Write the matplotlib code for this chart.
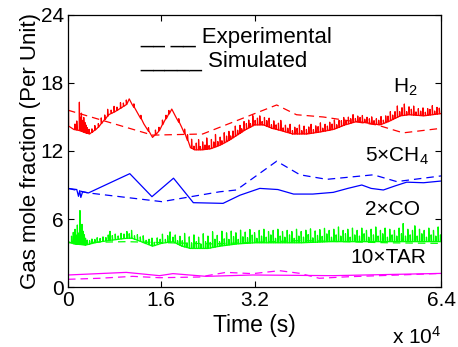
import numpy as np
import matplotlib.pyplot as plt

plt.rcParams['font.family'] = ['Liberation Sans', 'DejaVu Sans']
plt.rcParams['mathtext.default'] = 'regular'

# time in units of 1e4 s, values in per unit (scaled)
# simulated curves: slow baseline (t, value) plus spikes (t, height above baseline)
h2_base = [(0, 25), (0.01, 14.2), (0.10, 13.9), (0.20, 13.8), (0.30, 13.6), (0.37, 13.5), (0.50, 14.0),
           (0.60, 14.6), (0.70, 15.2), (0.85, 15.6), (1.00, 16.1), (1.05, 16.6), (1.10, 16.1), (1.20, 15.3),
           (1.30, 14.4), (1.45, 13.2), (1.55, 13.7), (1.65, 14.6), (1.78, 15.7), (1.85, 15.0), (1.95, 14.1),
           (2.03, 13.2), (2.10, 12.3), (2.17, 12.1), (2.30, 12.1), (2.45, 12.2), (2.60, 12.5), (2.75, 12.9),
           (2.90, 13.4), (3.05, 13.9), (3.20, 14.3), (3.35, 14.3), (3.50, 14.0), (3.65, 13.8), (3.85, 13.5),
           (4.10, 13.5), (4.35, 13.7), (4.55, 13.9), (4.75, 14.3), (4.95, 14.6), (5.10, 14.5), (5.35, 14.3),
           (5.50, 14.6), (5.70, 15.1), (5.85, 15.2), (6.10, 15.1), (6.40, 15.3)]
h2_spikes = [(0.12, 0.5), (0.15, 0.8), (0.195, 2.5), (0.21, 1.2), (0.23, 1.6), (0.25, 1.0), (0.27, 1.3),
             (0.29, 0.9), (0.31, 0.7), (0.33, 0.5), (0.36, 0.4), (0.41, 0.3), (0.46, 0.4), (0.52, 0.3),
             (0.57, 0.5), (0.63, 0.4), (0.68, 0.6), (0.74, 0.3), (0.79, 0.5), (0.84, 0.3), (0.90, 0.5),
             (0.95, 0.3), (1.00, 0.4), (1.13, 0.3), (1.25, 0.3), (1.38, 0.3), (1.50, 0.4), (1.56, 0.3),
             (1.62, 0.4), (1.68, 0.3), (1.73, 0.3), (1.90, 0.3), (2.00, 0.4), (2.05, 0.5),
             (2.12, 0.8), (2.16, 0.3), (2.20, 0.6), (2.24, 0.9), (2.27, 0.3), (2.31, 0.7), (2.35, 0.4),
             (2.38, 1.0), (2.42, 0.3), (2.46, 0.8), (2.50, 0.5), (2.53, 1.1), (2.57, 0.4), (2.61, 0.7),
             (2.64, 0.3), (2.68, 0.9), (2.72, 0.5), (2.76, 0.8), (2.79, 0.3), (2.83, 0.6), (2.87, 0.9),
             (2.91, 0.4), (2.95, 0.7), (2.98, 0.3), (3.02, 0.8), (3.06, 0.5), (3.10, 0.7), (3.13, 0.3),
             (3.17, 0.9), (3.21, 0.4), (3.25, 0.6), (3.29, 0.8), (3.33, 0.3), (3.37, 0.7), (3.41, 0.5),
             (3.45, 0.8), (3.49, 0.3), (3.53, 0.7), (3.57, 0.4), (3.61, 0.6), (3.65, 0.9), (3.69, 0.3),
             (3.73, 0.6), (3.77, 0.4), (3.81, 0.8), (3.85, 0.3), (3.89, 0.6), (3.93, 0.5), (3.97, 0.8),
             (4.01, 0.3), (4.05, 0.7), (4.09, 0.4), (4.13, 0.6), (4.17, 0.8), (4.21, 0.3), (4.25, 0.6),
             (4.29, 0.5), (4.33, 0.8), (4.37, 0.3), (4.41, 0.6), (4.45, 0.4), (4.49, 0.7), (4.53, 0.5),
             (4.57, 0.8), (4.61, 0.3), (4.65, 0.6), (4.69, 0.5), (4.73, 0.7), (4.77, 0.3), (4.81, 0.6),
             (4.85, 0.4), (4.89, 0.7), (4.93, 0.3), (4.97, 0.5), (5.01, 0.4), (5.05, 0.6), (5.09, 0.3),
             (5.13, 0.5), (5.17, 0.4), (5.21, 0.6), (5.25, 0.3), (5.29, 0.5), (5.33, 0.4), (5.37, 0.7),
             (5.41, 0.3), (5.45, 0.6), (5.49, 0.5), (5.53, 0.8), (5.57, 0.4), (5.61, 0.6), (5.65, 1.0),
             (5.69, 0.4), (5.73, 0.7), (5.77, 1.0), (5.81, 0.3), (5.85, 0.7), (5.89, 0.5), (5.93, 0.8),
             (5.97, 0.3), (6.01, 0.6), (6.05, 0.4), (6.09, 0.7), (6.13, 0.3), (6.17, 0.6), (6.21, 0.5),
             (6.25, 0.8), (6.29, 0.3), (6.33, 0.6), (6.37, 0.5)]
h2_exp = [(0, 15.6), (1.45, 13.4), (2.31, 13.5), (3.58, 16.06), (3.92, 15.2), (4.38, 15.0),
          (5.30, 14.3), (5.75, 13.6), (6.40, 14.0)]

ch4_base = [(0, 8.7), (0.15, 8.6), (0.18, 8.0), (0.20, 8.5), (0.22, 7.9), (0.25, 8.4), (0.35, 8.3),
            (0.60, 8.9), (0.85, 9.5), (1.06, 10.0), (1.44, 7.97), (1.81, 9.6), (2.15, 7.44), (2.66, 7.38),
            (2.95, 8.1), (3.29, 8.7), (3.60, 8.6), (3.87, 8.2), (4.20, 8.2), (4.55, 8.35), (4.80, 8.7),
            (5.04, 9.0), (5.20, 8.7), (5.41, 8.56), (5.60, 8.9), (5.81, 9.25), (6.10, 9.2), (6.40, 9.35)]
ch4_spikes = []
ch4_exp = [(0, 8.7), (0.35, 8.3), (1.61, 7.53), (2.60, 8.4), (2.89, 8.56), (3.58, 11.1), (3.98, 9.9),
           (4.44, 9.5), (5.24, 9.9), (5.64, 9.3), (6.40, 9.8)]

co_base = [(0, 21.3), (0.005, 4.0), (0.10, 3.8), (0.30, 3.7), (0.50, 3.95), (0.70, 4.1), (1.00, 4.3),
           (1.10, 4.3), (1.30, 3.9), (1.45, 3.6), (1.60, 3.85), (1.80, 4.0), (1.95, 3.6), (2.10, 3.4),
           (2.40, 3.4), (2.60, 3.6), (2.90, 3.8), (3.20, 3.9), (4.00, 3.9), (4.50, 4.0), (6.40, 4.0)]
co_spikes = [(0.06, 0.6), (0.09, 1.0), (0.12, 1.3), (0.14, 0.8), (0.16, 1.7), (0.18, 1.0), (0.205, 3.0),
             (0.22, 1.4), (0.24, 1.8), (0.26, 1.2), (0.28, 0.9), (0.30, 0.6), (0.33, 0.4), (0.37, 0.3),
             (0.41, 0.4), (0.46, 0.3), (0.50, 0.4), (0.55, 0.3), (0.60, 0.4), (0.65, 0.3), (0.69, 0.5),
             (0.72, 0.8), (0.76, 0.4), (0.81, 0.5), (0.86, 0.3), (0.91, 0.5), (0.96, 0.4), (1.01, 0.6),
             (1.05, 0.4), (1.09, 0.7), (1.14, 0.3), (1.19, 0.5), (1.24, 0.4), (1.29, 0.6), (1.34, 0.3),
             (1.39, 0.5), (1.44, 0.7), (1.48, 0.3), (1.53, 0.6), (1.58, 0.4), (1.62, 0.8), (1.67, 0.3),
             (1.71, 0.6), (1.75, 0.9), (1.80, 0.4), (1.84, 0.7), (1.88, 0.3), (1.92, 0.8), (1.96, 0.5),
             (2.00, 1.2), (2.04, 0.4), (2.08, 1.0), (2.12, 0.5), (2.16, 1.2), (2.20, 0.6), (2.24, 1.0),
             (2.28, 0.4), (2.32, 1.3), (2.36, 0.6), (2.40, 1.1), (2.44, 0.5), (2.48, 1.4), (2.52, 0.7),
             (2.56, 1.0), (2.60, 0.4), (2.64, 1.3), (2.68, 0.6), (2.72, 1.1), (2.76, 0.5), (2.80, 1.2),
             (2.84, 0.7), (2.88, 1.0), (2.92, 0.4), (2.96, 1.2), (3.00, 0.6), (3.04, 1.0), (3.08, 0.5),
             (3.12, 1.2), (3.16, 0.7), (3.20, 0.9), (3.24, 0.4), (3.28, 1.1), (3.32, 0.6), (3.36, 1.2),
             (3.40, 0.5), (3.44, 1.0), (3.48, 0.7), (3.52, 1.1), (3.56, 0.4), (3.60, 1.2), (3.64, 0.6),
             (3.68, 1.0), (3.72, 0.5), (3.76, 1.1), (3.80, 0.7), (3.84, 1.0), (3.88, 0.4), (3.92, 1.2),
             (3.96, 0.6), (4.00, 1.0), (4.04, 0.5), (4.08, 1.1), (4.12, 0.7), (4.16, 1.2), (4.20, 0.4),
             (4.24, 1.0), (4.28, 0.6), (4.32, 1.1), (4.36, 0.5), (4.40, 1.2), (4.44, 0.7), (4.48, 1.0),
             (4.52, 0.4), (4.56, 1.1), (4.60, 0.6), (4.64, 1.3), (4.68, 0.5), (4.72, 1.0), (4.76, 0.7),
             (4.80, 1.1), (4.84, 0.4), (4.88, 1.2), (4.92, 0.6), (4.96, 1.0), (5.00, 0.5), (5.04, 1.2),
             (5.08, 0.7), (5.12, 1.0), (5.16, 0.4), (5.20, 1.1), (5.24, 0.6), (5.28, 1.3), (5.32, 0.5),
             (5.36, 1.0), (5.40, 0.7), (5.44, 1.2), (5.48, 0.4), (5.52, 1.1), (5.56, 0.6), (5.60, 1.0),
             (5.64, 0.5), (5.68, 1.2), (5.72, 0.7), (5.75, 1.6), (5.79, 0.5), (5.83, 1.1), (5.87, 0.6),
             (5.91, 1.0), (5.95, 1.4), (5.99, 0.5), (6.03, 1.1), (6.07, 0.7), (6.11, 1.0), (6.15, 0.4),
             (6.19, 1.2), (6.23, 0.6), (6.27, 1.0), (6.31, 0.5), (6.35, 1.3), (6.39, 0.6)]
co_exp = [(0, 3.9), (1.0, 4.0), (2.5, 3.8), (4.0, 4.1), (5.5, 3.9), (6.4, 3.85)]

tar_base = [(0, 1.06), (1.0, 1.29), (1.57, 1.0), (1.80, 1.18), (2.37, 0.94), (3.17, 1.06),
            (4.54, 1.0), (6.40, 1.2)]
tar_spikes = []
tar_exp = [(0, 0.68), (0.54, 0.77), (1.11, 0.94), (1.57, 0.82), (2.25, 0.88), (2.71, 1.29),
           (3.17, 1.18), (3.63, 1.44), (3.97, 1.21), (4.31, 0.77), (4.83, 0.91), (5.68, 1.06),
           (6.40, 1.2)]

series = [(h2_base, h2_spikes, h2_exp, 'red'), (ch4_base, ch4_spikes, ch4_exp, 'blue'),
          (co_base, co_spikes, co_exp, 'lime'), (tar_base, tar_spikes, tar_exp, 'magenta')]


def spiky(base, spikes):
    # put each spike into the baseline path: sharp rise, quick fall
    t, v = zip(*base)
    pts = list(base)
    for st, h in spikes:
        b = np.interp(st, t[1:], v[1:])
        pts += [(st - 0.002, b), (st, b + h), (st + 0.008, b)]
    pts.sort()
    return zip(*pts)


fig = plt.figure(figsize=(4.58, 3.47), dpi=100)
ax = fig.add_axes([0.1485, 0.1729, 0.8145, 0.7839])

for base, spikes, exp, col in series:
    t, v = spiky(base, spikes)
    ax.plot(t, v, color=col, lw=0.9)
    t, v = zip(*exp)
    ax.plot(t, v, color=col, lw=0.9, ls=(0, (6, 4)))

ax.set_xlim(0, 6.4)
ax.set_ylim(0, 24)
ax.set_xticks([0, 1.6, 3.2, 6.4])
ax.set_xticklabels(['0', '1.6', '3.2', '6.4'])
ax.set_yticks([0, 6, 12, 18, 24])
ax.tick_params(direction='in', top=True, right=True, length=4, labelsize=15, pad=3)
for s in ax.spines.values():
    s.set_linewidth(0.9)

ax.set_xlabel('Time (s)', fontsize=16.5, labelpad=3)
ax.set_ylabel('Gas mole fraction (Per Unit)', fontsize=16, labelpad=0)

ax.text(1.24, 22.0, '__ __ Experimental', fontsize=16, va='center')
ax.text(1.24, 19.9, '_____ Simulated', fontsize=16, va='center')
ax.text(5.58, 17.6, 'H$_2$', fontsize=15, va='center')
ax.text(5.10, 11.5, '5\u00d7CH$_4$', fontsize=15, va='center')
ax.text(5.10, 6.8, '2\u00d7CO', fontsize=15, va='center')
ax.text(4.84, 2.6, '10\u00d7TAR', fontsize=15, va='center')
fig.text(0.963, 0.009, 'x 10$^4$', fontsize=15, ha='right', va='baseline')

fig.savefig('out.png', dpi=100)
